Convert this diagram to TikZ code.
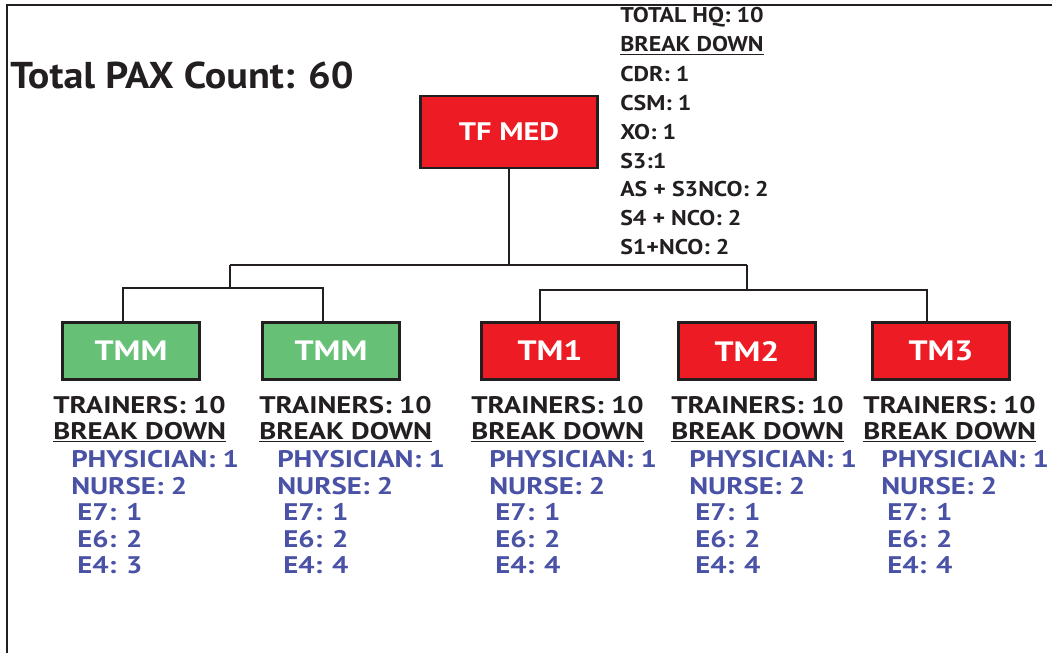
\documentclass[tikz,border=0pt]{standalone}
\usepackage{fontspec}
\setmainfont{PT Sans}
\newfontfamily\widefont{PT Sans}[FakeStretch=1.2]
\newfontfamily\hqfont{PT Sans}[FakeStretch=1.12]
\newfontfamily\titlefont{PT Sans}[FakeStretch=1.075]
\definecolor{medred}{HTML}{ED1C24}
\definecolor{medgreen}{HTML}{66C176}
\definecolor{medblue}{HTML}{4A52A5}
\definecolor{inkblack}{HTML}{231F20}
\begin{document}
\begin{tikzpicture}[
x=0.75pt,y=-0.75pt,
unitbox/.style={
  draw=inkblack,
  line width=1.8pt,
  minimum width=102.75pt,
  minimum height=42.75pt,
  inner sep=0pt,
  text=white,
  font=\widefont\bfseries\fontsize{21}{21}\selectfont
  },
infotext/.style={anchor=west,inner sep=0pt,text=inkblack,font=\widefont\bfseries\fontsize{18}{18}\selectfont},
staffline/.style={infotext,text=medblue},
hqtext/.style={infotext,font=\hqfont\bfseries\fontsize{16}{16}\selectfont},
link/.style={draw=inkblack,line width=1.5pt}
]
\useasboundingbox (0,0) rectangle (1052,653);
\draw[line width=1.5pt,draw=inkblack] (7,653) -- (7,5) -- (1052,5);
\node[anchor=base west,inner sep=0pt,text=inkblack,font=\titlefont\bfseries\fontsize{28}{28}\selectfont]
  (paxtotal) at (10,88) {Total PAX Count: 60};
\node[unitbox,fill=medred,minimum width=132.75pt,minimum height=54pt,
  font=\widefont\bfseries\fontsize{19}{19}\selectfont] (tfmed) at (509,132) {TF MED};
\foreach \txt [count=\i] in {TOTAL HQ: 10,\underline{BREAK DOWN},CDR: 1,CSM: 1,XO: 1,S3:1,AS + S3NCO: 2,S4 + NCO: 2,S1+NCO: 2}
  \node[hqtext] (hq\i) at (620,{17+28.75*(\i-1)}) {\txt};
\foreach \name/\lbl/\col/\cx/\tx/\efour in {tmmA/TMM/medgreen/131/53/3,tmmB/TMM/medgreen/331/259/4,tm1/TM1/medred/550/471/4,tm2/TM2/medred/747/671/4,tm3/TM3/medred/941/863/4}{
  \node[unitbox,fill=\col] (\name) at (\cx,351) {\lbl};
  \node[infotext] (\name-tr) at (\tx,405) {TRAINERS: 10};
  \node[infotext] (\name-bd) at (\tx,432) {\underline{BREAK DOWN}};
  \node[staffline] (\name-ph) at (\tx+18,459) {PHYSICIAN: 1};
  \node[staffline] (\name-nu) at (\tx+18,486) {NURSE: 2};
  \node[staffline] (\name-e7) at (\tx+24,512) {E7: 1};
  \node[staffline] (\name-e6) at (\tx+24,539) {E6: 2};
  \node[staffline] (\name-e4) at (\tx+24,565) {E4: \efour};
}
\coordinate (jl) at (230,265);
\coordinate (jr) at (747,265);
\coordinate (ja) at (230,288);
\coordinate (jb) at (747,290);
\draw[link] (tfmed.south) -- (tfmed.south |- jl);
\draw[link] (jl) -- (jr);
\draw[link] (jl) -- (ja);
\draw[link] (jr) -- (jb);
\draw[link] ([xshift=-6pt]tmmA.north) |- (ja) -| ([xshift=-6pt]tmmB.north);
\draw[link] ([xshift=-7.5pt]tm1.north) |- (jb) -| ([xshift=-10.5pt]tm3.north);
\end{tikzpicture}
\end{document}
